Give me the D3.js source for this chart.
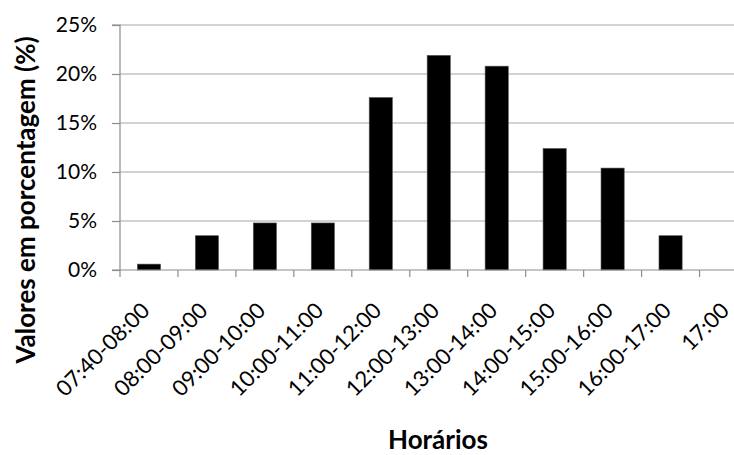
<!DOCTYPE html>
<html>
<head>
<meta charset="utf-8">
<script src="https://cdn.jsdelivr.net/npm/d3@7"></script>
<style>
  html, body { margin: 0; padding: 0; background: #fff; }
  svg { display: block; }
  text { font-family: Lato, "Open Sans", sans-serif; fill: #000; }
</style>
</head>
<body>
<svg id="chart" width="734" height="455"></svg>
<script>
const categories = ["07:40-08:00","08:00-09:00","09:00-10:00","10:00-11:00","11:00-12:00","12:00-13:00","13:00-14:00","14:00-15:00","15:00-16:00","16:00-17:00","17:00"];
const values = [0.006, 0.035, 0.048, 0.048, 0.176, 0.219, 0.208, 0.124, 0.104, 0.035, null];
const yTicks = [0, 0.05, 0.10, 0.15, 0.20, 0.25];
const yTitle = "Valores em porcentagem (%)";
const xTitle = "Horários";

(function () {
const svg = d3.select("#chart");
const plotLeft = 120, plotTop = 25, plotBottom = 270, plotRight = 757.5;

const x = d3.scaleBand().domain(categories).range([plotLeft, plotRight]).paddingInner(0).paddingOuter(0);
const y = d3.scaleLinear().domain([0, 0.25]).range([plotBottom, plotTop]);

// gridlines
svg.append("g").selectAll("line").data(yTicks.filter(d => d > 0)).join("line")
  .attr("x1", plotLeft).attr("x2", plotRight)
  .attr("y1", d => y(d)).attr("y2", d => y(d))
  .attr("stroke", "#a6a6a6").attr("stroke-width", 1.2);

// bars
const barW = x.bandwidth() * 0.4;
svg.append("g").selectAll("rect").data(categories.map((c, i) => ({c, v: values[i]})).filter(d => d.v != null)).join("rect")
  .attr("x", d => x(d.c) + (x.bandwidth() - barW) / 2)
  .attr("width", barW)
  .attr("y", d => y(d.v))
  .attr("height", d => y(0) - y(d.v))
  .attr("fill", "#000")
  .attr("stroke", "#555").attr("stroke-width", 0.6);

// y axis
const yAxis = d3.axisLeft(y).tickValues(yTicks).tickFormat(d3.format(".0%")).tickSize(8).tickPadding(15);
const gy = svg.append("g").attr("transform", `translate(${plotLeft},0)`).call(yAxis);
gy.select(".domain").attr("stroke", "#8c8c8c").attr("stroke-width", 1.2).attr("d", `M-8,${plotTop}H0V${plotBottom}H-8`);
gy.selectAll(".tick line").attr("stroke", "#8c8c8c").attr("stroke-width", 1.2);
gy.selectAll(".tick text").style("font-size", "21px").style("font-family", "Lato, sans-serif").attr("fill", "#000");

// x axis
const xAxis = d3.axisBottom(x).tickSize(0);
const gx = svg.append("g").attr("transform", `translate(0,${plotBottom})`).call(xAxis);
gx.select(".domain").attr("stroke", "#8c8c8c").attr("stroke-width", 1.2).attr("d", `M${plotLeft},0H${plotRight}`);
gx.selectAll(".tick text")
  .attr("x", 0).attr("y", 0).attr("dy", 0)
  .attr("text-anchor", "end")
  .attr("transform", "translate(2,42) rotate(-45)")
  .style("font-size", "22px").style("font-family", "Lato, sans-serif").attr("fill", "#000");
// boundary ticks
const bounds = categories.map(c => x(c)).concat([plotRight]);
gx.append("g").selectAll("line").data(bounds).join("line")
  .attr("x1", d => d).attr("x2", d => d).attr("y1", 0).attr("y2", 7)
  .attr("stroke", "#8c8c8c").attr("stroke-width", 1.2);

// titles
svg.append("text")
  .attr("transform", `translate(35,200) rotate(-90)`)
  .attr("text-anchor", "middle")
  .style("font-size", "26px").style("font-weight", "bold")
  .text(yTitle);

svg.append("text")
  .attr("x", 438).attr("y", 449)
  .attr("text-anchor", "middle")
  .style("font-size", "26px").style("font-weight", "bold")
  .text(xTitle);
})();
</script>
</body>
</html>
